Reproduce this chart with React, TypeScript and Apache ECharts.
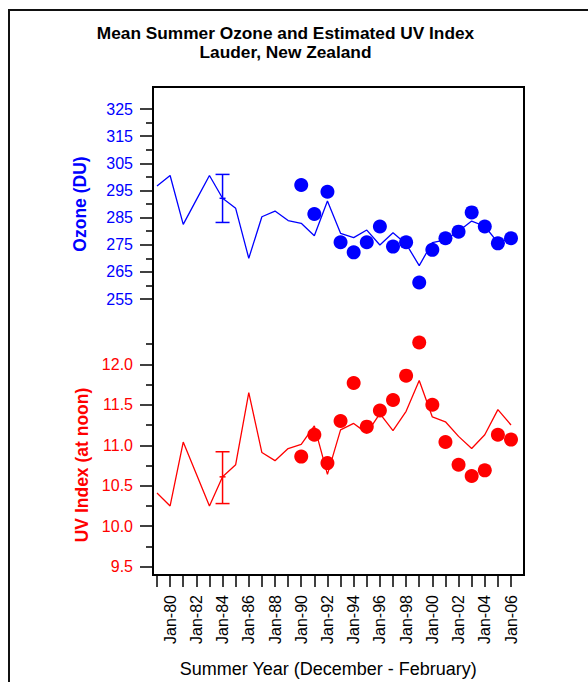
import React, { useEffect, useRef } from 'react';
import * as echarts from 'echarts';

const years = [1979, 1980, 1981, 1982, 1983, 1984, 1985, 1986, 1987, 1988, 1989, 1990, 1991, 1992, 1993, 1994, 1995, 1996, 1997, 1998, 1999, 2000, 2001, 2002, 2003, 2004, 2005, 2006];
const ozoneModel = [296.6, 300.5, 282.5, 291.5, 300.5, 292.1, 288.4, 270.0, 285.3, 287.4, 283.9, 282.9, 278.3, 291.1, 279.2, 277.6, 280.4, 274.9, 279.4, 275.3, 267.3, 275.8, 276.8, 280.0, 283.7, 281.8, 275.8, 277.5];
const uvModel = [10.41, 10.25, 11.04, 10.645, 10.25, 10.61, 10.76, 11.65, 10.91, 10.81, 10.96, 11.01, 11.24, 10.64, 11.19, 11.27, 11.15, 11.39, 11.18, 11.42, 11.80, 11.35, 11.29, 11.11, 10.96, 11.13, 11.44, 11.25];

const obsYears = [1990, 1991, 1992, 1993, 1994, 1995, 1996, 1997, 1998, 1999, 2000, 2001, 2002, 2003, 2004, 2005, 2006];
const ozoneObs = [297.0, 286.3, 294.5, 275.9, 272.2, 275.9, 281.7, 274.3, 275.9, 261.1, 273.1, 277.4, 279.8, 286.9, 281.7, 275.5, 277.4];
const uvObs = [10.86, 11.13, 10.78, 11.30, 11.77, 11.23, 11.43, 11.56, 11.86, 12.27, 11.50, 11.04, 10.76, 10.62, 10.69, 11.13, 11.07];

// [year, low, high, centre]
const ozoneErrorBar = [1984, 283.2, 300.9, 292.1];
const uvErrorBar = [1984, 10.28, 10.92, 10.61];

const ozoneMajorTicks = [255, 265, 275, 285, 295, 305, 315, 325];
const ozoneMinorTicks = [260, 270, 280, 290, 300, 310, 320];
const uvMajorTicks = [9.5, 10.0, 10.5, 11.0, 11.5, 12.0];
const uvMinorTicks = [9.75, 10.25, 10.75, 11.25, 11.75, 12.25];
const xLabelYears = [1980, 1982, 1984, 1986, 1988, 1990, 1992, 1994, 1996, 1998, 2000, 2002, 2004, 2006];

const FONT = "'Liberation Sans', Arial, sans-serif";
const BLUE = '#0000ff';
const RED = '#ff0000';

function errorBarSeries(data: number[], color: string, xIdx: number, yIdx: number) {
  return {
    type: 'custom',
    xAxisIndex: xIdx,
    yAxisIndex: yIdx,
    data: [data],
    encode: { x: 0, y: [1, 2] },
    clip: false,
    z: 3,
    renderItem: (params: any, api: any) => {
      const x = api.value(0);
      const lo = api.coord([x, api.value(1)]);
      const hi = api.coord([x, api.value(2)]);
      const mid = api.coord([x, api.value(3)]);
      const cap = 7;
      const style = { stroke: color, lineWidth: 1.5 };
      return {
        type: 'group',
        children: [
          { type: 'line', shape: { x1: lo[0], y1: lo[1], x2: hi[0], y2: hi[1] }, style },
          { type: 'line', shape: { x1: lo[0] - cap, y1: lo[1], x2: lo[0] + cap, y2: lo[1] }, style },
          { type: 'line', shape: { x1: hi[0] - cap, y1: hi[1], x2: hi[0] + cap, y2: hi[1] }, style },
          { type: 'line', shape: { x1: mid[0] - 3, y1: mid[1], x2: mid[0] + 3, y2: mid[1] }, style },
        ],
      };
    },
  };
}

function yAxisPair(grid: number, min: number, max: number, major: number[], minor: number[], color: string, name: string, nameGap: number, fmt: (v: number) => string) {
  const tickStyle = { color: '#000', width: 1.5 };
  return [
    {
      gridIndex: grid, type: 'value', position: 'left', min, max, offset: 4,
      axisLine: { show: false },
      axisTick: { show: true, length: 13, customValues: major, lineStyle: tickStyle },
      axisLabel: { customValues: major, margin: 20, color, fontSize: 16, fontFamily: FONT, formatter: fmt },
      splitLine: { show: false },
      name, nameLocation: 'middle', nameGap, nameRotate: 90,
      nameTextStyle: { color, fontSize: 17.5, fontWeight: 'bold', fontFamily: FONT },
    },
    {
      gridIndex: grid, type: 'value', position: 'left', min, max, offset: 4,
      axisLine: { show: false },
      axisTick: { show: true, length: 7, customValues: minor, lineStyle: tickStyle },
      axisLabel: { show: false },
      splitLine: { show: false },
    },
  ];
}

export default function App() {
  const ref = useRef<HTMLDivElement>(null);
  useEffect(() => {
    document.body.style.margin = '0';
    const chart = echarts.init(ref.current!, null, { renderer: 'svg' });
    const option: any = {
      animation: false,
      backgroundColor: '#fff',
      grid: [
        { left: 157, width: 354, top: 109, height: 190 },
        { left: 157, width: 354, top: 344.1, height: 222.6 },
      ],
      xAxis: [
        { gridIndex: 0, type: 'value', min: 1979, max: 2006, show: false },
        {
          gridIndex: 1, type: 'value', min: 1979, max: 2006, interval: 1, offset: 8.3,
          axisLine: { show: false, onZero: false },
          axisTick: { show: true, length: 12, lineStyle: { color: '#000', width: 1.5 } },
          axisLabel: {
            customValues: xLabelYears, rotate: 90, margin: 20, color: '#000', fontSize: 16, fontFamily: FONT,
            formatter: (v: number) => 'Jan-' + String(v).slice(2),
          },
          splitLine: { show: false },
        },
      ],
      yAxis: [
        ...yAxisPair(0, 255, 325, ozoneMajorTicks, ozoneMinorTicks, BLUE, 'Ozone (DU)', 64, (v) => String(v)),
        ...yAxisPair(1, 9.5, 12.25, uvMajorTicks, uvMinorTicks, RED, '', 62, (v) => v.toFixed(1)),
      ],
      graphic: [
        { type: 'rect', shape: { x: 9, y: 10, width: 640, height: 720 }, style: { fill: 'none', stroke: '#111', lineWidth: 2 }, z: 0 },
        { type: 'rect', shape: { x: 153, y: 87, width: 371, height: 488 }, style: { fill: 'none', stroke: '#000', lineWidth: 2 }, z: 0 },
        { type: 'text', x: 285.5, y: 33.2, style: { text: 'Mean Summer Ozone and Estimated UV Index', fontSize: 17.3, fontWeight: 'bold', fontFamily: FONT, fill: '#000', align: 'center', verticalAlign: 'middle' } },
        { type: 'text', x: 285.5, y: 52, style: { text: 'Lauder, New Zealand', fontSize: 17.3, fontWeight: 'bold', fontFamily: FONT, fill: '#000', align: 'center', verticalAlign: 'middle' } },
        { type: 'text', x: 82, y: 465, rotation: Math.PI / 2, style: { text: 'UV Index (at noon)', fontSize: 17.5, fontWeight: 'bold', fontFamily: FONT, fill: RED, align: 'center', verticalAlign: 'middle' } },
        { type: 'text', x: 328.3, y: 669, style: { text: 'Summer Year (December - February)', fontSize: 18, fontFamily: FONT, fill: '#000', align: 'center', verticalAlign: 'middle' } },
      ],
      series: [
        {
          type: 'line', xAxisIndex: 0, yAxisIndex: 0, symbol: 'none',
          data: years.map((y, i) => [y, ozoneModel[i]]),
          lineStyle: { color: BLUE, width: 1.3 }, z: 2,
        },
        {
          type: 'scatter', xAxisIndex: 0, yAxisIndex: 0, symbolSize: 14, clip: false,
          data: obsYears.map((y, i) => [y, ozoneObs[i]]),
          itemStyle: { color: BLUE, opacity: 1 }, z: 4,
        },
        errorBarSeries(ozoneErrorBar, BLUE, 0, 0),
        {
          type: 'line', xAxisIndex: 1, yAxisIndex: 2, symbol: 'none',
          data: years.map((y, i) => [y, uvModel[i]]),
          lineStyle: { color: RED, width: 1.3 }, z: 2,
        },
        {
          type: 'scatter', xAxisIndex: 1, yAxisIndex: 2, symbolSize: 14, clip: false,
          data: obsYears.map((y, i) => [y, uvObs[i]]),
          itemStyle: { color: RED, opacity: 1 }, z: 4,
        },
        errorBarSeries(uvErrorBar, RED, 1, 2),
      ],
    };
    chart.setOption(option);
    return () => chart.dispose();
  }, []);
  return <div ref={ref} style={{ width: 588, height: 682 }} />;
}
